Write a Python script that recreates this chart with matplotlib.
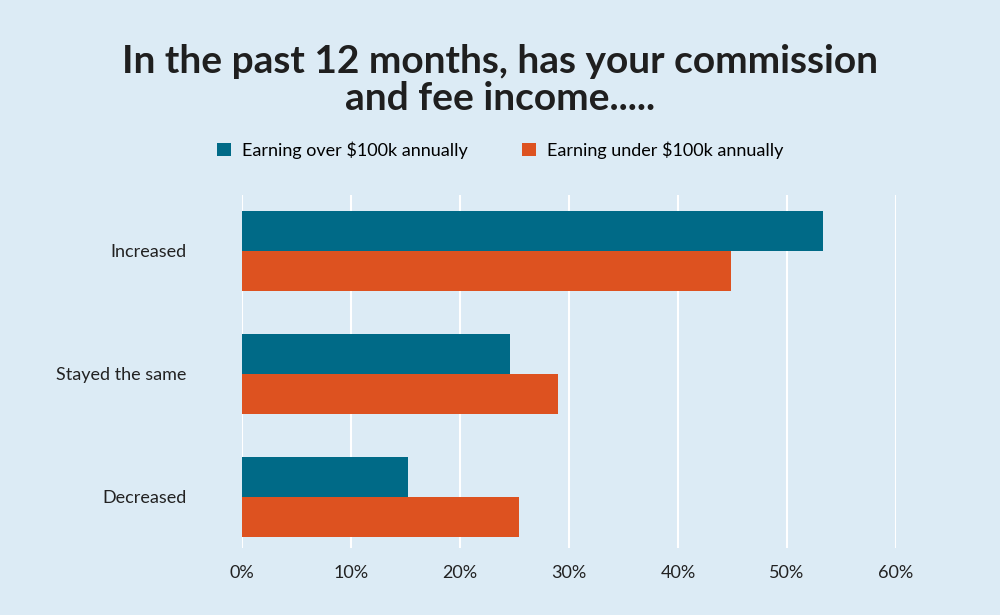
import matplotlib.pyplot as plt
import numpy as np

categories = ["Increased", "Stayed the same", "Decreased"]
over_100k = [53.3, 24.6, 15.2]
under_100k = [44.9, 29.0, 25.4]
ticks = [0, 10, 20, 30, 40, 50, 60]

BG = "#dcebf5"
TEAL = "#006a87"
ORANGE = "#dd5220"

plt.rcParams["font.family"] = "Lato"

fig = plt.figure(figsize=(10, 6.15), dpi=100, facecolor=BG)
ax = fig.add_axes([0.242, 1 - 548 / 615, 0.654, (548 - 195) / 615])
ax.set_facecolor(BG)

y = np.arange(len(categories))
h = 0.325
ax.barh(y - h / 2, over_100k, height=h, color=TEAL, label="Earning over $100k annually", zorder=3)
ax.barh(y + h / 2, under_100k, height=h, color=ORANGE, label="Earning under $100k annually", zorder=3)

ax.set_xlim(0, 60)
ax.set_ylim(2.415, -0.455)
ax.set_xticks(ticks)
ax.set_xticklabels([f"{t}%" for t in ticks], fontsize=13, color="#222222")
ax.set_yticks(y)
ax.set_yticklabels(categories, fontsize=13, color="#222222")
ax.tick_params(length=0, pad=12)
ax.tick_params(axis="y", pad=40)
ax.grid(axis="x", color="white", linewidth=1.5, zorder=0)
for s in ax.spines.values():
    s.set_visible(False)

fig.text(0.5, 1 - 80 / 615, "In the past 12 months, has your commission\nand fee income.....",
         ha="center", va="center", fontsize=28, fontweight="bold", color="#1f1f1f", linespacing=1.05)

handles, labels = ax.get_legend_handles_labels()
fig.legend(handles, labels, loc="center", bbox_to_anchor=(0.5, 1 - 150 / 615), ncol=2,
           frameon=False, fontsize=13, handlelength=0.8, handleheight=0.8,
           columnspacing=3, handletextpad=0.6)

fig.savefig("out.png", dpi=100, facecolor=BG)
